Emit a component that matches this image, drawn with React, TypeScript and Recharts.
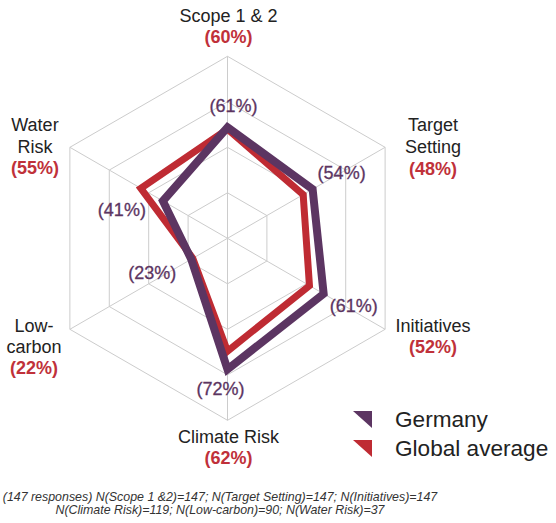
import { RadarChart, Radar, PolarGrid, PolarAngleAxis, PolarRadiusAxis, Legend } from 'recharts';

const categories = ['Scope 1 & 2', 'Target Setting', 'Initiatives', 'Climate Risk', 'Low-carbon', 'Water Risk'];
const categoryLines = [['Scope 1 & 2'], ['Target', 'Setting'], ['Initiatives'], ['Climate Risk'], ['Low-', 'carbon'], ['Water', 'Risk']];
const germany = [61, 54, 61, 72, 23, 41];
const globalAverage = [60, 48, 52, 62, 22, 55];

const PURPLE = '#5c3562';
const RED = '#bf2b33';
const LABEL_RED = '#c0313a';
const FONT = '"Liberation Sans", Arial, Helvetica, sans-serif';

const data = categories.map((name, i) => ({ name, germany: germany[i], global: globalAverage[i] }));

// offsets of the axis label blocks from the tick anchor (x, baseline of each line)
const tickOffsets = [
  { dx: 1, dy: [-26.6, -5] },
  { dx: 41, dy: [-12.6, 9.7, 31.7] },
  { dx: 41, dy: [-1.6, 19.7] },
  { dx: 1, dy: [14.4, 35.7] },
  { dx: -29, dy: [-1.6, 19.7, 40.7] },
  { dx: -28, dy: [-12.6, 9.4, 30.7] },
];

// offsets of Germany value labels from their vertex
const valueOffsets = [
  { dx: 6, dy: -15 },
  { dx: 29, dy: -10 },
  { dx: 30, dy: 18 },
  { dx: -7, dy: 26 },
  { dx: -39, dy: 20 },
  { dx: -41, dy: 15 },
];

const AngleTick = (props: any) => {
  const { x, y, payload } = props;
  const i = categories.indexOf(payload.value);
  const off = tickOffsets[i];
  const lines = categoryLines[i];
  return (
    <g>
      {lines.map((line, k) => (
        <text key={k} x={x + off.dx} y={y + off.dy[k]} textAnchor="middle" fill="#222" fontSize={18} fontFamily={FONT}>
          {line}
        </text>
      ))}
      <text x={x + off.dx} y={y + off.dy[lines.length]} textAnchor="middle" fill={LABEL_RED} fontSize={18} fontWeight="bold" fontFamily={FONT}>
        ({globalAverage[i]}%)
      </text>
    </g>
  );
};

const GermanyLabel = (props: any) => {
  const { cx, cy, index } = props;
  const off = valueOffsets[index];
  return (
    <text key={`gl-${index}`} x={cx + off.dx} y={cy + off.dy} textAnchor="middle" fill={PURPLE} stroke={PURPLE} strokeWidth={0.3} fontSize={18} fontFamily={FONT}>
      ({germany[index]}%)
    </text>
  );
};

const LegendContent = () => (
  <svg width={210} height={60}>
    <polygon points="5,6 24,6 24,23" fill={PURPLE} />
    <text x={47} y={22} fill="#222" fontSize={22.6} fontFamily={FONT}>Germany</text>
    <polygon points="5,35 24,35 24,52" fill={RED} />
    <text x={47} y={51} fill="#222" fontSize={22.6} fontFamily={FONT}>Global average</text>
  </svg>
);

export default function App() {
  return (
    <div style={{ position: 'absolute', top: 0, left: 0, width: 556, height: 523, background: '#fff' }}>
      <RadarChart width={556} height={523} data={data} cx={227.5} cy={238.3} outerRadius={182} margin={{ top: 0, right: 0, bottom: 0, left: 0 }}>
        <PolarGrid gridType="polygon" stroke="#cccccc" strokeWidth={1} />
        <PolarAngleAxis dataKey="name" tick={<AngleTick />} tickLine={false} axisLine={false} />
        <PolarRadiusAxis domain={[0, 100]} tickCount={5} tick={false} axisLine={false} />
        <Radar dataKey="global" stroke={RED} strokeWidth={7} fill="none" fillOpacity={0} strokeLinejoin="miter" isAnimationActive={false} dot={false} />
        <Radar dataKey="germany" stroke={PURPLE} strokeWidth={8} fill="none" fillOpacity={0} strokeLinejoin="miter" isAnimationActive={false} dot={GermanyLabel} />
        <Legend content={<LegendContent />} wrapperStyle={{ position: 'absolute', left: 348, top: 405, width: 210 }} />
      </RadarChart>
      <div style={{ position: 'absolute', left: 0, top: 491, width: 440, textAlign: 'center', fontFamily: FONT, fontStyle: 'italic', fontSize: 12.4, lineHeight: '12.5px', color: '#333' }}>
        (147 responses) N(Scope 1 &amp;2)=147; N(Target Setting)=147; N(Initiatives)=147
        <br />
        N(Climate Risk)=119; N(Low-carbon)=90; N(Water Risk)=37
      </div>
    </div>
  );
}
